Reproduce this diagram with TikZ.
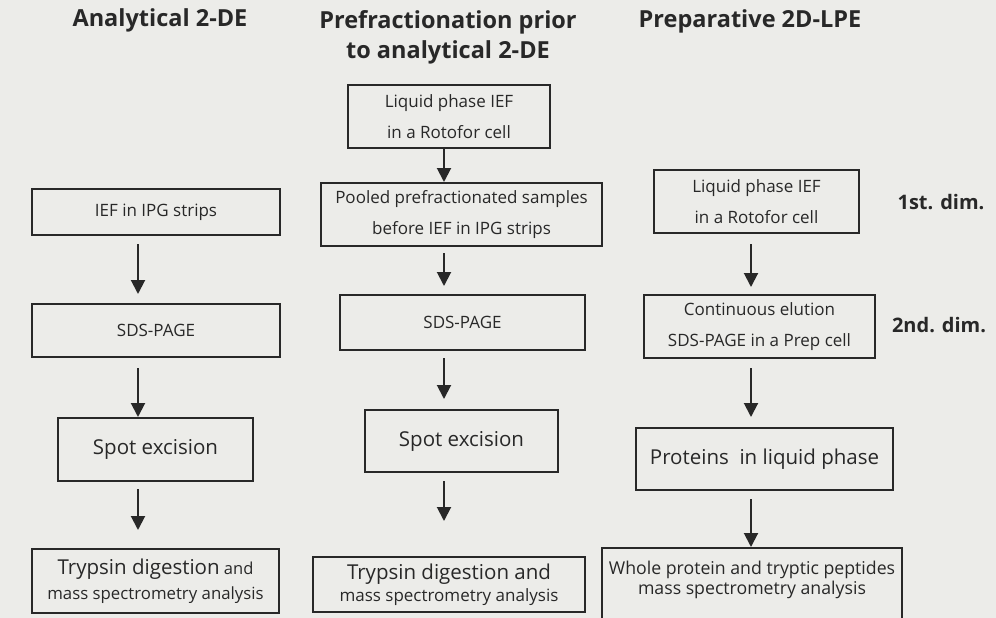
\documentclass[tikz,border=0pt]{standalone}
\usepackage{fontspec}
\setmainfont{Open Sans}
\usetikzlibrary{arrows.meta}
\definecolor{paper}{RGB}{236,236,233}
\definecolor{ink}{RGB}{40,40,40}
\tikzset{
  box/.style={draw=ink, line width=2pt, rectangle, inner sep=0pt, align=center, text=ink},
  arr/.style={draw=ink, line width=2pt, -{Triangle[length=14pt,width=14pt]}},
  ttl/.style={text=ink, font=\bfseries\fontsize{23.5}{30}\selectfont, align=center, inner sep=0pt},
  dimlab/.style={text=ink, font=\bfseries\fontsize{20}{22}\selectfont, inner sep=0pt},
  t15/.style={font=\fontsize{17}{31}\selectfont},
  t18/.style={font=\fontsize{20.5}{24}\selectfont}
}
\begin{document}
\begin{tikzpicture}[x=1pt,y=-1pt]
\fill[paper] (0,0) rectangle (996,618);
\useasboundingbox (0,0) rectangle (996,618);
\clip (0,0) rectangle (996,618);
% titles
\node[ttl] (h1) at (160,20) {Analytical 2-DE};
\node[ttl] (h2) at (448,37) {Prefractionation prior\\to analytical 2-DE};
\node[ttl] (h3) at (750,21) {Preparative 2D-LPE};
\node[dimlab] (d1) at (941,202) {1st. dim.};
\node[dimlab] (d2) at (939,325) {2nd. dim.};
% column 1
\node[box,t15,minimum width=248,minimum height=46] (a1) at (156,212) {IEF in IPG strips};
\node[box,t15,minimum width=248,minimum height=53] (a2) at (156,330.5) {SDS-PAGE};
\node[box,t18,minimum width=195,minimum height=63] (a3) at (155.5,449.5) {Spot excision};
\node[box,minimum width=247,minimum height=64] (a4) at (155.5,581) {{\fontsize{20.5}{22}\selectfont Trypsin digestion}{\fontsize{16.5}{22}\selectfont\ and}\\[6pt]{\fontsize{16.8}{18}\selectfont mass spectrometry analysis}};
% column 2
\node[box,t15,minimum width=202,minimum height=63] (b1) at (449,116.5) {Liquid phase IEF\\in a Rotofor cell};
\node[box,t15,minimum width=281,minimum height=63] (b2) at (461.5,214.5) {Pooled prefractionated samples\\before IEF in IPG strips};
\node[box,t15,minimum width=245,minimum height=55] (b3) at (462.5,322.5) {SDS-PAGE};
\node[box,t18,minimum width=193,minimum height=62] (b4) at (461.5,441) {Spot excision};
\node[box,minimum width=272,minimum height=55] (b5) at (449,584.5) {{\fontsize{20.5}{22}\selectfont Trypsin digestion and}\\[3pt]{\fontsize{17}{18}\selectfont mass spectrometry analysis}};
% column 3
\node[box,t15,minimum width=205,minimum height=63] (c1) at (756.5,201.5) {Liquid phase IEF\\in a Rotofor cell};
\node[box,t15,minimum width=231,minimum height=63] (c2) at (759.5,326.5) {Continuous elution\\SDS-PAGE in a Prep cell};
\node[box,t18,minimum width=257,minimum height=62] (c3) at (764.5,459) {Proteins\ \ in liquid phase};
\node[box,minimum width=300,minimum height=74] (c4) at (752,585) {};
\node[text=ink,align=center,inner sep=0pt,font=\fontsize{17.7}{20}\selectfont] (c4t) at (752,580) {Whole protein and tryptic peptides\\mass spectrometry analysis};
% arrows column 1
\draw[arr] ([shift={(-18,8)}]a1.south) -- ([shift={(-18,-9)}]a2.north);
\draw[arr] ([shift={(-18,10)}]a2.south) -- ([shift={(-17.5,0)}]a3.north);
\draw[arr] ([shift={(-17.5,7)}]a3.south) -- ([shift={(-17.5,-18)}]a4.north);
% arrows column 2
\draw[arr] ([shift={(-5,0)}]b1.south) -- ([shift={(-17.5,0)}]b2.north);
\draw[arr] ([shift={(-17.5,6)}]b2.south) -- ([shift={(-18.5,-8)}]b3.north);
\draw[arr] ([shift={(-18.5,7)}]b3.south) -- ([shift={(-17.5,-10)}]b4.north);
\draw[arr] ([shift={(-17.5,8)}]b4.south) -- ([shift={(-5,-35)}]b5.north);
% arrows column 3
\draw[arr] ([shift={(-5.5,10)}]c1.south) -- ([shift={(-8.5,-7)}]c2.north);
\draw[arr] ([shift={(-8.5,9)}]c2.south) -- ([shift={(-13.5,-10)}]c3.north);
\draw[arr] ([shift={(-13.5,8)}]c3.south) -- ([shift={(-1,0)}]c4.north);
\end{tikzpicture}
\end{document}
